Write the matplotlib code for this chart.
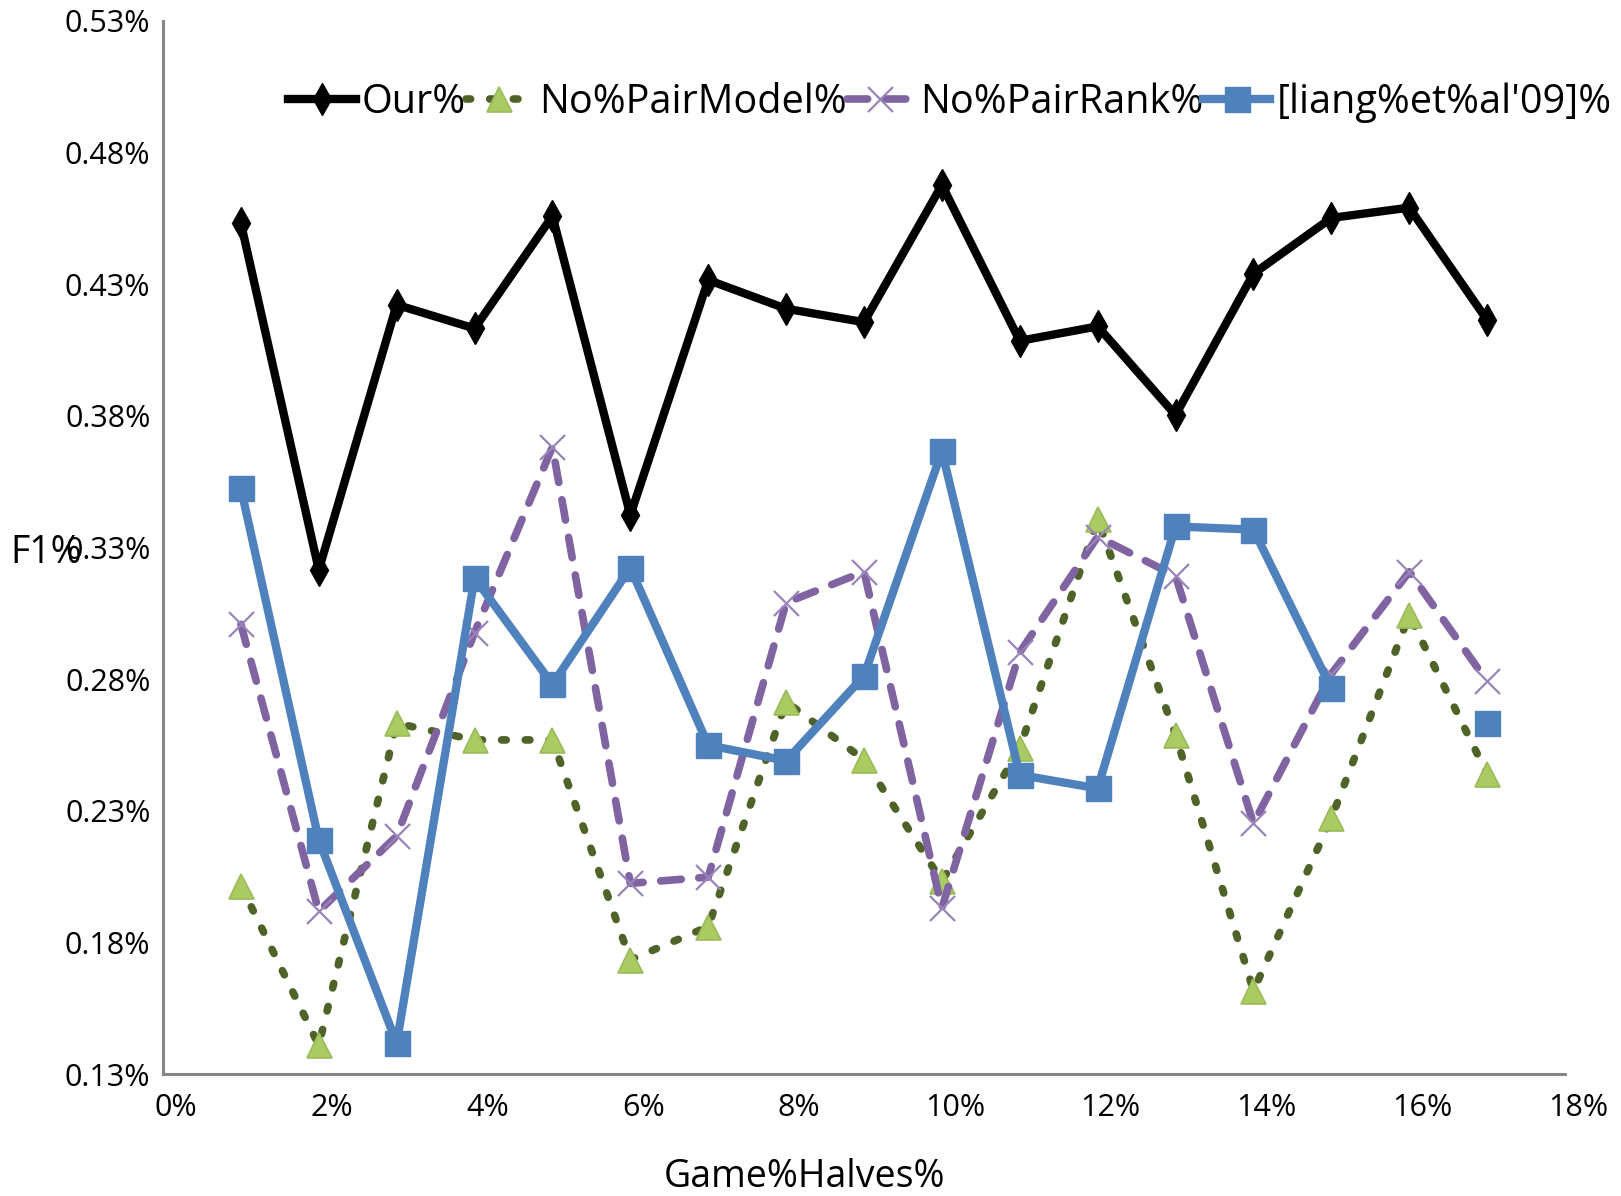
import numpy as np
import matplotlib.pyplot as plt
import matplotlib.transforms as mtransforms

plt.rcParams['font.family'] = ['Open Sans', 'DejaVu Sans']

# game halves 1..17 (x axis in %)
halves = list(range(1, 18))

our = [0.4532, 0.3215, 0.4222, 0.4132, 0.4559, 0.3423, 0.4316, 0.4207, 0.4156,
       0.4677, 0.4085, 0.4140, 0.3803, 0.4340, 0.4552, 0.4591, 0.4164]
no_pair_model = [0.2016, 0.1409, 0.2632, 0.2569, 0.2569, 0.1734, 0.1860, 0.2714, 0.2494,
                 0.2032, 0.2538, 0.3407, 0.2588, 0.1617, 0.2271, 0.3043, 0.2440]
no_pair_rank = [0.3008, 0.1918, 0.2204, 0.2977, 0.3682, 0.2024, 0.2048, 0.3090, 0.3208,
                0.1930, 0.2902, 0.3341, 0.3192, 0.2252, 0.2820, 0.3208, 0.2792]
liang = [0.3525, 0.2189, 0.1417, 0.3184, 0.2780, 0.3223, 0.2549, 0.2490, 0.2812,
         0.3666, 0.2436, 0.2385, 0.3380, 0.3368, 0.2765, np.nan, 0.2635]

series_names = ['Our%', 'No%PairModel%', 'No%PairRank%', "[liang%et%al'09]%"]
xticks = list(range(0, 19, 2))
xtick_labels = ['%d%%' % v for v in xticks]
yticks = [0.13, 0.18, 0.23, 0.28, 0.33, 0.38, 0.43, 0.48, 0.53]
ytick_labels = ['%.2f%%' % v for v in yticks]

W, H = 1621, 1196
fig = plt.figure(figsize=(W / 100, H / 100), dpi=100)
ax = fig.add_axes([163 / W, 1 - 1074 / H, (1565 - 163) / W, (1074 - 21) / H])

ax.plot(halves, our, color='black', lw=6, marker='d', ms=16, mfc='black', mec='black',
        label=series_names[0], zorder=5)
ax.plot(halves, no_pair_model, color='#4F6228', lw=5.5, dashes=(0.6, 2.5), dash_capstyle='round',
        marker='^', ms=18, mfc='#A9CB62', mec='#9BBB59', mew=1.2, label=series_names[1], zorder=3)
ax.plot(halves, no_pair_rank, color='#8064A2', lw=5.5, dashes=(2.7, 2.3), dash_capstyle='round',
        marker='x', ms=18, mec='#9A83BA', mew=1.6, label=series_names[2], zorder=4)
ax.plot(halves, liang, color='#4F81BD', lw=6, marker='s', ms=18, mfc='#4F81BD', mec='#4F81BD',
        label=series_names[3], zorder=4)

ax.set_xlim(0, 18)
ax.set_ylim(0.13, 0.53)
ax.set_xticks(xticks)
ax.set_xticklabels(xtick_labels, fontsize=22)
ax.set_yticks(yticks)
ax.set_yticklabels(ytick_labels, fontsize=22)
ax.tick_params(length=0, pad=9)
ax.tick_params(axis='x', pad=14)

# excel placed the category labels a little to the right
shift = mtransforms.ScaledTranslation(0.13, 0, fig.dpi_scale_trans)
for lab in ax.get_xticklabels():
    lab.set_transform(lab.get_transform() + shift)

for s in ['top', 'right']:
    ax.spines[s].set_visible(False)
for s in ['left', 'bottom']:
    ax.spines[s].set_color('#868686')
    ax.spines[s].set_linewidth(2.2)

leg = ax.legend(loc='center', bbox_to_anchor=(0.586, 0.914), bbox_transform=fig.transFigure,
                ncol=4, frameon=False, fontsize=28.5, handlelength=1.7, handletextpad=0.15,
                columnspacing=0.0, borderpad=0)

fig.text(804 / W, 1 - 1177 / H, 'Game%Halves%', fontsize=27, ha='center', va='center')
fig.text(10 / W, 1 - 553 / H, 'F1%', fontsize=27, ha='left', va='center')

fig.savefig('out.png', dpi=100)
